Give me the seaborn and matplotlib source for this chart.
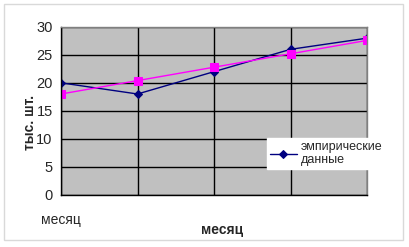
import matplotlib
matplotlib.use("Agg")
import matplotlib.pyplot as plt
import seaborn as sns
import pandas as pd
from matplotlib.patches import Rectangle

months = [0, 1, 2, 3, 4]
empirical = [20, 18, 22, 26, 28]
trend = [18, 20.4, 22.8, 25.2, 27.6]
x_ticklabels = ["месяц", "", "", "", ""]
y_ticks = [0, 5, 10, 15, 20, 25, 30]

df = pd.DataFrame({"x": months, "emp": empirical, "trend": trend})

sns.set_theme(style="white")
plt.rcParams["font.family"] = ["Liberation Sans", "DejaVu Sans"]

fig = plt.figure(figsize=(4.09, 2.47), dpi=100)
fig.patches.append(Rectangle((4/409, 1-240/247), 399/409, 236/247, transform=fig.transFigure,
                             fill=False, edgecolor="#d9d9d9", linewidth=1))
ax = fig.add_axes([61/409, 1-194.5/247, 306/409, 167.5/247])
ax.set_facecolor("#c0c0c0")

sns.lineplot(data=df, x="x", y="emp", ax=ax, color="#000080", marker="D", markersize=4,
             markeredgecolor="#000080", linewidth=1, label="эмпирические\nданные")
sns.lineplot(data=df, x="x", y="trend", ax=ax, color="#ff00ff", marker="s", markersize=6,
             markeredgecolor="#ff00ff", linewidth=1, label="_nolegend_")

ax.set_xlim(0, 4)
ax.set_ylim(0, 30)
ax.set_yticks(y_ticks)
ax.set_xticks(months)
ax.set_xticklabels(x_ticklabels, fontsize=10)
ax.tick_params(axis="y", labelsize=10.5, length=4, width=1, color="black", direction="out", pad=2)
ax.tick_params(axis="x", length=4, width=1, color="black", direction="out", pad=9)
for lab in ax.get_xticklabels():
    lab.set_horizontalalignment("center")
ax.grid(True, color="black", linewidth=1)
ax.set_axisbelow(True)
for s in ax.spines.values():
    s.set_color("#808080")
    s.set_linewidth(1)
ax.spines["left"].set_color("black")
ax.spines["bottom"].set_color("black")

ax.set_xlabel("месяц", fontsize=10, fontweight="bold")
ax.xaxis.set_label_coords(0.527, -0.172)
ax.set_ylabel("тыс. шт.", fontsize=10, fontweight="bold")
ax.yaxis.set_label_coords(-0.08, 0.43)

leg = ax.legend(loc="upper left", bbox_to_anchor=(206/306, 1-(138-27)/167.5), frameon=True,
                fontsize=9, handlelength=2.2, borderpad=0.2, fancybox=False,
                handletextpad=0.3, borderaxespad=0)
leg.get_frame().set_facecolor("white")
leg.get_frame().set_edgecolor("white")
leg.get_frame().set_alpha(1)

fig.savefig("out.png", dpi=100)
